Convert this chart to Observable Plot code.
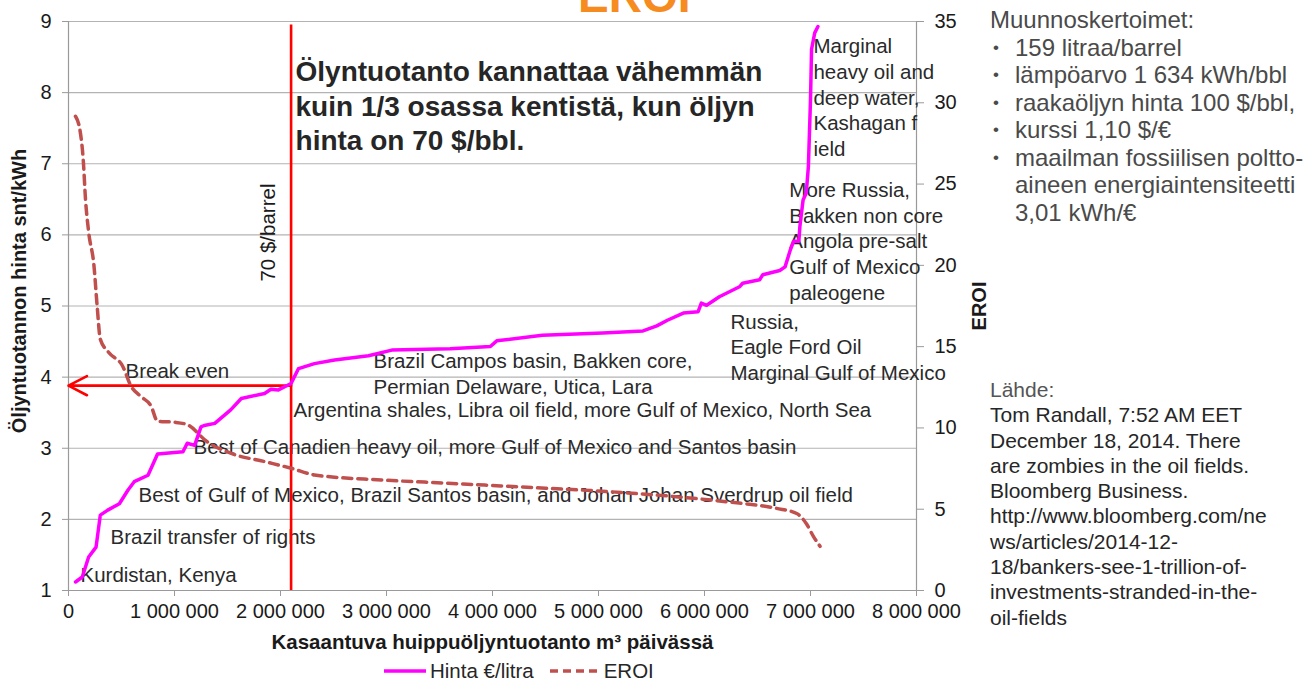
<!DOCTYPE html>
<html>
<head>
<meta charset="utf-8">
<script src="https://cdn.jsdelivr.net/npm/d3@7"></script>
<script src="https://cdn.jsdelivr.net/npm/@observablehq/plot@0.6"></script>
<style>
  html, body { margin: 0; padding: 0; background: #fff; }
  #wrap { position: relative; width: 1312px; height: 682px; overflow: hidden; font-family: "Liberation Sans", Arial, sans-serif; }
  #wrap > svg { position: absolute; left: 0; top: 0; }
  #wrap > svg text.ann { word-spacing: 2px; }
  .ovl { position: absolute; white-space: nowrap; }
  #title { left: 578px; top: -27px; font-size: 46px; font-weight: bold; color: #f68b1f; line-height: 1; }
  #conv { left: 990px; top: 6px; font-size: 24px; color: #4a4a4a; line-height: 27.5px; }
  #conv ul { margin: 0; padding: 0; list-style: none; }
  #conv li { position: relative; padding-left: 25px; }
  #conv li::before { content: "•"; position: absolute; left: 3px; font-size: 17px; }
  #src { left: 990px; top: 377px; font-size: 21px; color: #262626; line-height: 25.3px; }
  #src .h { color: #555; }
  #legend { left: 384px; top: 659px; font-size: 20.5px; color: #262626; line-height: 24px; display: flex; align-items: center; }
  #legend svg { position: static; }
</style>
</head>
<body>
<div id="wrap"></div>
<script>
// ---------- data (x in millions of m³/day) ----------
const hintaX = [0.066, 0.13, 0.19, 0.26, 0.30, 0.37, 0.48, 0.56, 0.62, 0.75, 0.84, 1.08, 1.12, 1.19, 1.25, 1.28, 1.38, 1.53, 1.63, 1.85, 1.91, 1.98, 2.10, 2.17, 2.32, 2.51, 2.83, 3.05, 3.60, 3.98, 4.04, 4.47, 5.04, 5.42, 5.55, 5.65, 5.80, 5.94, 5.97, 6.02, 6.14, 6.33, 6.36, 6.52, 6.55, 6.71, 6.76, 6.81, 6.84, 6.89, 6.90, 6.93, 6.96, 6.98, 7.00, 7.01, 7.04, 7.07];
const hintaY = [1.12, 1.19, 1.47, 1.61, 2.06, 2.13, 2.22, 2.41, 2.53, 2.62, 2.92, 2.95, 3.07, 3.04, 3.30, 3.32, 3.35, 3.54, 3.70, 3.77, 3.83, 3.82, 3.91, 4.12, 4.19, 4.24, 4.30, 4.38, 4.40, 4.43, 4.51, 4.59, 4.62, 4.65, 4.72, 4.80, 4.90, 4.92, 5.04, 5.01, 5.13, 5.27, 5.32, 5.37, 5.44, 5.50, 5.55, 5.79, 5.91, 5.91, 6.12, 6.49, 6.59, 6.96, 7.90, 8.61, 8.84, 8.93];

const eroiX = [0.066, 0.11, 0.14, 0.16, 0.19, 0.24, 0.27, 0.30, 0.38, 0.51, 0.59, 0.68, 0.78, 0.84, 1.00, 1.12, 1.22, 1.25, 1.53, 1.85, 2.10, 2.32, 2.95, 3.58, 4.50, 5.10, 5.73, 6.21, 6.68, 6.87, 6.96, 7.03, 7.09];
const eroiY = [29.17, 28.24, 26.4, 24.1, 22.06, 19.99, 17.52, 15.46, 14.64, 13.81, 12.57, 11.95, 11.33, 10.41, 10.35, 10.2, 9.69, 9.48, 8.45, 7.93, 7.52, 7.11, 6.80, 6.60, 6.29, 6.08, 5.77, 5.46, 5.05, 4.74, 4.12, 3.30, 2.72];

const xTicks = [0, 1e6, 2e6, 3e6, 4e6, 5e6, 6e6, 7e6, 8e6];
const yTicks = [1, 2, 3, 4, 5, 6, 7, 8, 9];
const eroiTicks = [0, 5, 10, 15, 20, 25, 30, 35];

// break-even annotation values
const breakEvenX = 2.1e6;
const breakEvenY = 3.88;
const priceLineTop = 8.95;

// text annotations (x in millions, y in snt/kWh)
const annotText = [
  "Kurdistan, Kenya",
  "Brazil transfer of rights",
  "Best of Gulf of Mexico, Brazil Santos basin, and Johan Johan Sverdrup oil field",
  "Best of Canadien heavy oil, more Gulf of Mexico and Santos basin",
  "Argentina shales, Libra oil field, more Gulf of Mexico, North Sea",
  "Brazil Campos basin, Bakken core,\nPermian Delaware, Utica, Lara",
  "Russia,\nEagle Ford Oil\nMarginal Gulf of Mexico",
  "More Russia,\nBakken non core\nAngola pre-salt\nGulf of Mexico\npaleogene",
  "Marginal\nheavy oil and\ndeep water,\nKashagan f\nield",
  "Break even"
];
const annotX = [0.113, 0.396, 0.660, 1.179, 2.123, 2.877, 6.245, 6.80, 7.028, 0.538];
const annotY = [1.24, 1.773, 2.364, 3.039, 3.559, 4.058, 4.438, 5.927, 7.946, 4.107];

const headline = "Ölyntuotanto kannattaa vähemmän\nkuin 1/3 osassa kentistä, kun öljyn\nhinta on 70 $/bbl.";
const headlineX = 2.142;
const headlineY = 7.83;
const barrelLabel = "70 $/barrel";
const barrelX = 1.887;
const barrelY = 6.033;

// ---------- build ----------
const toLeft = v => 1 + v * 8 / 35;
const hinta = hintaX.map((x, i) => ({x: x * 1e6, y: hintaY[i]}));
const eroi = eroiX.map((x, i) => ({x: x * 1e6, y: toLeft(eroiY[i])}));
const annots = annotText.map((t, i) => ({t, x: annotX[i] * 1e6, y: annotY[i]}));
const fmt = d => d === 0 ? "0" : d3.format(",")(d).replace(/,/g, " ");

const chart = Plot.plot({
  width: 1312,
  height: 682,
  marginLeft: 68,
  marginRight: 396,
  marginTop: 21,
  marginBottom: 92,
  x: {domain: [0, 8e6]},
  y: {domain: [1, 9]},
  style: {fontFamily: "'Liberation Sans', Arial, sans-serif", fontSize: "20px", color: "#1a1a1a", background: "transparent"},
  marks: [
    Plot.gridY(yTicks, {stroke: "#b3b3b3", strokeOpacity: 1, strokeWidth: 1.2}),
    Plot.ruleX([0, 8e6], {stroke: "#9a9a9a", strokeWidth: 1.2}),
    Plot.ruleY([1], {stroke: "#9a9a9a", strokeWidth: 1.2}),
    Plot.axisX(xTicks, {tickFormat: fmt, tickSize: 6, tickPadding: 7, stroke: "#9a9a9a", fill: "#1a1a1a", label: null, fontSize: 20}),
    Plot.axisY(yTicks, {anchor: "left", tickFormat: d => String(d), tickSize: 6, tickPadding: 11, stroke: "#9a9a9a", fill: "#1a1a1a", label: null, fontSize: 20}),
    Plot.axisY(eroiTicks.map(toLeft), {anchor: "right", tickFormat: d => String(Math.round((d - 1) * 35 / 8)), tickSize: 7, tickPadding: 11, stroke: "#9a9a9a", fill: "#1a1a1a", label: null, fontSize: 20}),
    Plot.text(["Kasaantuva huippuöljyntuotanto m³ päivässä"], {frameAnchor: "bottom", textAnchor: "middle", dy: 58, fontWeight: "bold", fontSize: 20.5, fill: "#1a1a1a"}),
    Plot.text(["Öljyntuotannon hinta snt/kWh"], {frameAnchor: "left", textAnchor: "middle", rotate: -90, dx: -49, dy: -15, fontWeight: "bold", fontSize: 20, fill: "#1a1a1a"}),
    Plot.text(["EROI"], {frameAnchor: "right", textAnchor: "middle", rotate: -90, dx: 63, dy: 0, fontWeight: "bold", fontSize: 20, fill: "#1a1a1a"}),
    Plot.text(annots, {x: "x", y: "y", text: "t", textAnchor: "start", lineAnchor: "middle", lineHeight: 1.25, fontSize: 20.5, fill: "#2a2a2a", className: "ann"}),
    Plot.text([headline], {x: () => headlineX * 1e6, y: () => headlineY, textAnchor: "start", lineAnchor: "middle", lineHeight: 1.22, fontSize: 28, fontWeight: "bold", fill: "#262626", className: "ann"}),
    Plot.text([barrelLabel], {x: () => barrelX * 1e6, y: () => barrelY, rotate: -90, fontSize: 20.5, fill: "#1a1a1a"}),
    Plot.ruleX([breakEvenX], {y1: 1, y2: priceLineTop, stroke: "#ff0000", strokeWidth: 2.6}),
    Plot.arrow([{x1: breakEvenX, x2: 0, y: breakEvenY}], {x1: "x1", x2: "x2", y1: "y", y2: "y", stroke: "#ff0000", strokeWidth: 2.6, headLength: 12, headAngle: 55}),
    Plot.line(eroi, {x: "x", y: "y", stroke: "#c0504d", strokeWidth: 3.5, strokeDasharray: "9,6", curve: "monotone-x"}),
    Plot.line(hinta, {x: "x", y: "y", stroke: "#ff00ff", strokeWidth: 3.5, curve: "linear"})
  ]
});

const wrap = document.getElementById("wrap");
wrap.appendChild(chart);

const title = document.createElement("div");
title.className = "ovl"; title.id = "title"; title.textContent = "EROI";
wrap.appendChild(title);

const convTitle = "Muunnoskertoimet:";
const convItems = ["159 litraa/barrel", "lämpöarvo 1 634 kWh/bbl", "raakaöljyn hinta 100 $/bbl,", "kurssi 1,10 $/€", "maailman fossiilisen poltto-\naineen energiaintensiteetti\n3,01 kWh/€"];
const conv = document.createElement("div");
conv.className = "ovl"; conv.id = "conv";
conv.innerHTML = `<div>${convTitle}</div><ul>${convItems.map(s => `<li>${s.replace(/\n/g, "<br>")}</li>`).join("")}</ul>`;
wrap.appendChild(conv);

const srcLines = ["Tom Randall, 7:52 AM EET", "December 18, 2014. There", "are zombies in the oil fields.", "Bloomberg  Business.", "http://www.bloomberg.com/ne", "ws/articles/2014-12-", "18/bankers-see-1-trillion-of-", "investments-stranded-in-the-", "oil-fields"];
const src = document.createElement("div");
src.className = "ovl"; src.id = "src";
src.innerHTML = `<div class="h">Lähde:</div>` + srcLines.map(s => `<div>${s}</div>`).join("");
wrap.appendChild(src);

const legend = document.createElement("div");
legend.className = "ovl"; legend.id = "legend";
legend.innerHTML = `<svg width="44" height="10"><line x1="0" y1="5" x2="42" y2="5" stroke="#ff00ff" stroke-width="3.5"/></svg><span style="margin-left:2px">Hinta €/litra</span>` +
  `<svg width="52" height="10" style="margin-left:16px"><line x1="0" y1="5" x2="50" y2="5" stroke="#c0504d" stroke-width="3.5" stroke-dasharray="8,5"/></svg><span style="margin-left:2px">EROI</span>`;
wrap.appendChild(legend);
</script>
</body>
</html>
